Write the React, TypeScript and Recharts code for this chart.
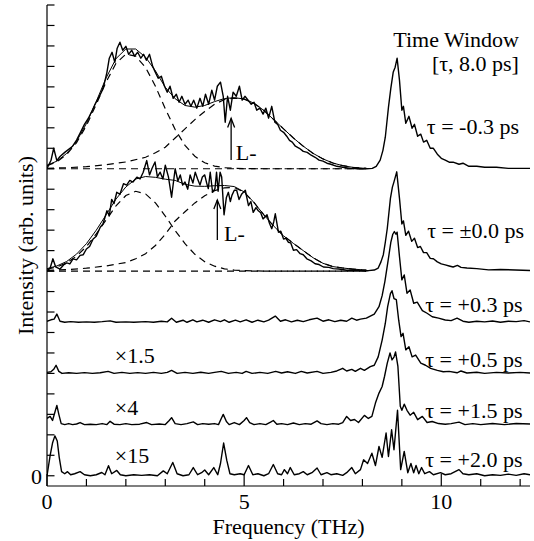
import React from 'react';
import { LineChart, Line, XAxis, YAxis, ReferenceDot } from 'recharts';

type Pt = [number, number];

// ---- axes ----
const FREQ_TICKS = [0, 1, 2, 3, 4, 5, 6, 7, 8, 9, 10, 11, 12];
const FREQ_LABELS = [0, 5, 10];
const INTENSITY_TICKS = [0, 1, 2, 3, 4, 5, 6, 7, 8, 9, 10, 11, 12, 13, 14, 15, 16, 17, 18, 19, 20, 21, 22, 23];
const INTENSITY_LABELS = [0];

// ---- vertical offsets of each trace (arb. units) ----
const OFFSET_M03 = 15;
const OFFSET_P00 = 10;
const OFFSET_P03 = 7.5;
const OFFSET_P05 = 5;
const OFFSET_P15 = 2.5;
const OFFSET_P20 = 0;

// ---- spectra [frequency THz, intensity] ----
const TAU_M03: Pt[] = [
  [0, 0.02], [0.1, 0.4], [0.17, 1.0], [0.25, 0.4], [0.33, 0.6], [0.45, 0.8], [0.55, 0.95], [0.65, 1.1], [0.75, 1.4],
  [0.85, 1.78], [0.95, 2.17], [1.05, 2.47], [1.15, 2.86], [1.22, 3.15], [1.3, 3.44], [1.38, 3.74], [1.45, 4.13],
  [1.52, 4.71], [1.58, 5.4], [1.65, 5.69], [1.72, 5.2], [1.78, 5.89], [1.85, 6.18], [1.92, 5.79], [2.0, 5.98],
  [2.07, 5.59], [2.15, 5.79], [2.22, 5.5], [2.3, 5.69], [2.38, 5.4], [2.45, 5.59], [2.52, 5.3], [2.6, 5.59],
  [2.68, 5.0], [2.75, 4.71], [2.82, 4.42], [2.9, 4.52], [2.98, 4.03], [3.05, 3.74], [3.12, 4.03], [3.2, 3.44],
  [3.28, 3.64], [3.35, 3.25], [3.42, 3.54], [3.5, 3.15], [3.58, 3.35], [3.65, 3.05], [3.72, 3.35], [3.8, 2.96],
  [3.88, 3.44], [3.95, 3.05], [4.02, 3.64], [4.1, 3.15], [4.18, 3.84], [4.25, 3.35], [4.32, 4.03], [4.4, 4.23],
  [4.47, 3.54], [4.52, 2.27], [4.58, 3.54], [4.65, 2.86], [4.72, 3.74], [4.8, 3.54], [4.88, 4.03], [4.95, 3.35],
  [5.02, 3.54], [5.1, 3.35], [5.18, 3.15], [5.25, 3.25], [5.32, 2.86], [5.4, 2.96], [5.48, 2.67], [5.55, 2.96],
  [5.62, 2.47], [5.7, 3.05], [5.78, 2.27], [5.85, 2.17], [5.92, 1.88], [6.0, 1.78], [6.08, 1.59], [6.15, 1.39],
  [6.22, 1.3], [6.3, 1.1], [6.4, 1.0], [6.5, 0.85], [6.6, 0.8], [6.7, 0.66], [6.8, 0.56], [6.9, 0.42], [7.0, 0.37],
  [7.1, 0.27], [7.2, 0.22], [7.35, 0.12], [7.5, 0.07], [7.7, 0.02], [7.9, 0], [8.1, 0], [8.25, 0.02], [8.35, 0.12],
  [8.45, 0.42], [8.52, 0.9], [8.58, 1.54], [8.66, 3.0], [8.72, 3.93], [8.78, 4.71], [8.83, 4.96], [8.88, 5.4],
  [8.94, 4.32], [9.0, 2.86], [9.04, 3.05], [9.1, 2.22], [9.18, 2.56], [9.26, 1.98], [9.32, 2.17], [9.4, 1.59],
  [9.48, 1.69], [9.55, 1.3], [9.63, 1.39], [9.72, 1.0], [9.8, 1.0], [9.9, 0.71], [10.0, 0.51], [10.1, 0.42],
  [10.2, 0.32], [10.3, 0.32], [10.45, 0.22], [10.55, 0.27], [10.7, 0.12], [10.9, 0.12], [11.1, 0.07], [11.4, 0.07],
  [11.7, 0.02], [12.25, 0.02],
];

const TAU_P00: Pt[] = [
  [0, 0.0], [0.08, 0.15], [0.15, 0.6], [0.22, 0.2], [0.33, 0.1], [0.42, 0.3], [0.5, 0.4], [0.58, 0.35], [0.66, 0.6],
  [0.75, 0.55], [0.84, 0.77], [0.92, 0.8], [1.0, 1.08], [1.08, 1.2], [1.17, 1.57], [1.25, 1.7], [1.35, 2.14],
  [1.42, 2.3], [1.52, 2.95], [1.58, 2.7], [1.64, 3.5], [1.7, 3.3], [1.77, 3.85], [1.85, 3.75], [1.94, 4.27],
  [2.02, 4.2], [2.1, 4.43], [2.18, 4.35], [2.28, 4.59], [2.36, 4.5], [2.44, 4.83], [2.53, 5.4], [2.6, 4.7],
  [2.66, 5.0], [2.74, 5.33], [2.8, 4.6], [2.87, 4.83], [2.94, 4.5], [3.0, 5.17], [3.08, 4.6], [3.16, 3.61],
  [3.25, 5.0], [3.32, 4.4], [3.38, 4.7], [3.44, 4.2], [3.5, 4.35], [3.57, 4.0], [3.63, 4.7], [3.7, 4.3],
  [3.76, 4.83], [3.82, 4.5], [3.88, 4.2], [3.94, 4.6], [4.0, 4.7], [4.05, 4.3], [4.09, 4.03], [4.14, 4.83],
  [4.2, 3.85], [4.26, 4.03], [4.3, 4.83], [4.34, 3.9], [4.39, 4.83], [4.43, 4.6], [4.49, 2.75], [4.55, 3.6],
  [4.6, 3.85], [4.65, 3.4], [4.69, 3.7], [4.75, 3.95], [4.81, 3.95], [4.87, 3.5], [4.94, 3.77], [5.03, 3.95],
  [5.11, 3.2], [5.17, 3.4], [5.23, 2.87], [5.3, 3.1], [5.36, 2.95], [5.42, 2.85], [5.48, 2.55], [5.58, 2.75],
  [5.64, 2.35], [5.7, 2.07], [5.75, 2.4], [5.79, 2.8], [5.87, 1.9], [5.93, 1.95], [6.0, 1.57], [6.06, 1.6],
  [6.12, 1.41], [6.18, 1.38], [6.25, 1.02], [6.33, 1.05], [6.42, 0.85], [6.5, 0.8], [6.59, 0.6], [6.7, 0.5],
  [6.8, 0.36], [6.9, 0.32], [7.01, 0.2], [7.15, 0.18], [7.26, 0.12], [7.4, 0.1], [7.6, 0.04], [7.8, 0.05],
  [8.0, 0.02], [8.15, 0.02], [8.3, 0.05], [8.4, 0.15], [8.47, 0.45], [8.53, 0.8], [8.58, 1.4], [8.63, 2.08],
  [8.71, 3.55], [8.76, 4.1], [8.8, 4.36], [8.87, 4.85], [8.94, 3.55], [9.0, 2.3], [9.04, 2.45], [9.1, 1.75],
  [9.17, 1.95], [9.25, 1.45], [9.32, 1.6], [9.4, 1.15], [9.47, 1.2], [9.55, 0.9], [9.63, 0.9], [9.72, 0.62],
  [9.8, 0.6], [9.9, 0.45], [10.0, 0.35], [10.1, 0.3], [10.2, 0.25], [10.3, 0.2], [10.41, 0.28], [10.5, 0.18],
  [10.65, 0.15], [10.9, 0.12], [11.2, 0.06], [11.5, 0.08], [12.25, 0.03],
];

const TAU_P03: Pt[] = [
  [0, 0.05], [0.1, 0.12], [0.18, 0.15], [0.25, 0.4], [0.33, 0.05], [0.45, 0.0], [0.6, 0.03], [0.8, 0.0], [1.0, 0.02],
  [1.2, 0.0], [1.4, 0.03], [1.6, 0.07], [1.75, 0.0], [2.0, 0.02], [2.2, 0.0], [2.5, 0.03], [2.7, 0.0], [2.9, 0.05],
  [3.05, 0.02], [3.16, 0.2], [3.28, 0.0], [3.45, 0.1], [3.55, 0.0], [3.7, 0.12], [3.8, 0.02], [3.95, 0.1],
  [4.1, 0.0], [4.25, 0.12], [4.4, 0.03], [4.5, 0.12], [4.62, 0.0], [4.78, 0.1], [4.9, 0.02], [5.05, 0.12],
  [5.2, 0.0], [5.35, 0.1], [5.5, 0.02], [5.62, 0.1], [5.79, 0.3], [5.92, 0.05], [6.05, 0.12], [6.2, 0.02],
  [6.35, 0.1], [6.5, 0.03], [6.65, 0.12], [6.85, 0.2], [7.0, 0.05], [7.15, 0.12], [7.3, 0.03], [7.45, 0.1],
  [7.6, 0.05], [7.73, 0.2], [7.85, 0.1], [7.95, 0.15], [8.1, 0.2], [8.2, 0.3], [8.3, 0.4], [8.42, 0.76],
  [8.5, 1.3], [8.57, 2.0], [8.65, 3.0], [8.72, 3.9], [8.77, 4.3], [8.81, 4.43], [8.85, 4.3], [8.88, 4.4],
  [8.94, 3.2], [9.0, 2.07], [9.06, 2.31], [9.13, 1.42], [9.21, 1.58], [9.3, 0.93], [9.39, 0.98], [9.52, 0.57],
  [9.64, 0.44], [9.77, 0.27], [9.93, 0.2], [10.1, 0.11], [10.25, 0.08], [10.4, 0.2], [10.55, 0.05], [10.7, 0.0],
  [10.9, 0.05], [11.1, 0.02], [11.3, 0.06], [11.5, 0.0], [11.7, 0.05], [11.9, 0.03], [12.1, 0.08], [12.25, 0.02],
];

const TAU_P05: Pt[] = [
  [0, 0.05], [0.1, 0.08], [0.17, 0.2], [0.23, 0.4], [0.3, 0.1], [0.38, 0.0], [0.55, 0.03], [0.75, 0.0], [0.95, 0.04],
  [1.15, 0.0], [1.35, 0.03], [1.55, 0.1], [1.7, 0.0], [1.9, 0.05], [2.1, 0.0], [2.3, 0.04], [2.5, 0.0], [2.7, 0.05],
  [2.9, 0.0], [3.05, 0.05], [3.16, 0.15], [3.3, 0.0], [3.5, 0.05], [3.7, 0.0], [3.9, 0.06], [4.1, 0.0], [4.25, 0.05],
  [4.42, 0.1], [4.6, 0.0], [4.8, 0.05], [4.95, 0.0], [5.05, 0.1], [5.2, 0.0], [5.4, 0.05], [5.6, 0.0], [5.8, 0.1],
  [5.95, 0.02], [6.1, 0.08], [6.3, 0.0], [6.45, 0.1], [6.6, 0.02], [6.85, 0.1], [7.0, 0.0], [7.2, 0.05],
  [7.35, 0.12], [7.5, 0.25], [7.6, 0.12], [7.73, 0.2], [7.82, 0.1], [7.95, 0.25], [8.05, 0.15], [8.2, 0.33],
  [8.3, 0.4], [8.4, 0.81], [8.5, 1.63], [8.58, 2.44], [8.64, 3.26], [8.71, 3.9], [8.75, 4.04], [8.8, 3.66],
  [8.86, 3.6], [8.92, 2.6], [8.98, 1.8], [9.03, 1.96], [9.1, 1.15], [9.18, 1.3], [9.26, 0.81], [9.35, 0.9],
  [9.48, 0.5], [9.6, 0.4], [9.73, 0.25], [9.9, 0.15], [10.05, 0.08], [10.2, 0.1], [10.4, 0.03], [10.5, 0.12],
  [10.65, 0.02], [10.9, 0.06], [11.1, 0.0], [11.4, 0.05], [11.7, 0.02], [12.0, 0.05], [12.25, 0.02],
];

const TAU_P15: Pt[] = [
  [0, 0.3], [0.08, 0.4], [0.14, 0.2], [0.2, 0.6], [0.25, 0.94], [0.3, 0.5], [0.36, 0.05], [0.45, 0.0], [0.55, 0.05],
  [0.65, 0.0], [0.75, 0.03], [0.84, 0.1], [0.95, 0.0], [1.1, 0.02], [1.25, 0.0], [1.4, 0.05], [1.52, 0.0], [1.6, 0.16],
  [1.7, 0.02], [1.85, 0.0], [2.0, 0.05], [2.15, 0.0], [2.35, 0.02], [2.53, 0.1], [2.65, 0.0], [2.85, 0.03], [3.0, 0.0],
  [3.1, 0.2], [3.16, 0.34], [3.25, 0.05], [3.4, 0.0], [3.55, 0.05], [3.71, 0.13], [3.82, 0.0], [3.95, 0.05],
  [4.1, 0.02], [4.25, 0.05], [4.35, 0.0], [4.42, 0.3], [4.47, 0.5], [4.55, 0.15], [4.62, 0.0], [4.75, 0.1],
  [4.88, 0.0], [5.0, 0.2], [5.06, 0.34], [5.14, 0.1], [5.25, 0.0], [5.4, 0.05], [5.55, 0.0], [5.67, 0.12],
  [5.74, 0.2], [5.83, 0.02], [5.95, 0.05], [6.1, 0.0], [6.25, 0.08], [6.4, 0.0], [6.55, 0.05], [6.7, 0.02],
  [6.85, 0.18], [6.95, 0.05], [7.1, 0.0], [7.25, 0.05], [7.4, 0.02], [7.5, 0.1], [7.6, 0.4], [7.7, 0.2], [7.8, 0.25],
  [7.9, 0.1], [8.05, 0.45], [8.15, 0.3], [8.24, 0.4], [8.33, 1.05], [8.42, 1.54], [8.5, 1.86], [8.56, 2.35],
  [8.63, 3.0], [8.7, 3.5], [8.75, 3.16], [8.8, 3.3], [8.84, 3.55], [8.9, 2.84], [8.96, 0.9], [9.0, 0.7], [9.06, 1.0],
  [9.13, 0.7], [9.21, 0.46], [9.3, 0.6], [9.4, 0.24], [9.52, 0.4], [9.64, 0.1], [9.77, 0.15], [9.93, 0.05],
  [10.1, 0.02], [10.25, 0.05], [10.45, 0.12], [10.6, 0.0], [10.8, 0.05], [11.0, 0.0], [11.3, 0.05], [11.6, 0.0],
  [11.9, 0.05], [12.25, 0.03],
];

const TAU_P20: Pt[] = [
  [0, 0], [0.08, 1.0], [0.14, 1.6], [0.2, 1.95], [0.26, 1.7], [0.31, 0.9], [0.37, 0.2], [0.45, 0.1], [0.52, 0.2],
  [0.6, 0.05], [0.7, 0.1], [0.84, 0.2], [0.95, 0.05], [1.1, 0.0], [1.25, 0.05], [1.39, 0.16], [1.47, 0.05],
  [1.56, 0.49], [1.64, 0.1], [1.77, 0.26], [1.86, 0.05], [2.0, 0.0], [2.2, 0.05], [2.4, 0.02], [2.6, 0.05],
  [2.8, 0.0], [2.95, 0.24], [3.05, 0.1], [3.19, 0.65], [3.3, 0.1], [3.45, 0.0], [3.6, 0.05], [3.71, 0.4],
  [3.82, 0.05], [3.92, 0.15], [4.0, 0.28], [4.1, 0.05], [4.23, 0.4], [4.33, 0.05], [4.4, 0.6], [4.48, 1.6],
  [4.56, 0.75], [4.64, 0.1], [4.75, 0.05], [4.9, 0.1], [5.0, 0.05], [5.11, 0.5], [5.22, 0.05], [5.35, 0.1],
  [5.5, 0.0], [5.62, 0.1], [5.74, 0.55], [5.85, 0.1], [5.95, 0.05], [6.02, 0.3], [6.1, 0.1], [6.17, 0.4],
  [6.27, 0.05], [6.4, 0.1], [6.5, 0.2], [6.6, 0.05], [6.72, 0.15], [6.85, 0.38], [6.95, 0.05], [7.1, 0.15],
  [7.2, 0.05], [7.35, 0.1], [7.5, 0.02], [7.6, 0.15], [7.73, 0.4], [7.82, 0.1], [7.95, 0.3], [8.03, 0.78],
  [8.13, 0.6], [8.24, 1.1], [8.33, 0.5], [8.42, 1.43], [8.5, 0.9], [8.6, 2.09], [8.66, 0.94], [8.74, 2.25],
  [8.8, 1.27], [8.89, 3.2], [8.97, 0.3], [9.06, 1.19], [9.15, 0.15], [9.23, 0.6], [9.3, 0.15], [9.36, 0.5],
  [9.43, 0.1], [9.5, 0.4], [9.58, 0.1], [9.7, 0.2], [9.8, 0.05], [9.98, 0.15], [10.1, 0.05], [10.25, 0.1],
  [10.45, 0.3], [10.55, 0.1], [10.7, 0.05], [10.9, 0.1], [11.1, 0.0], [11.3, 0.05], [11.5, 0.02], [11.7, 0.08],
  [11.9, 0.02], [12.1, 0.1], [12.25, 0.05],
];

// ---- fit components (dashed) and fit sums (solid) ----
const FIT_G1_M03: Pt[] = [
  [0, 0.15], [0.25, 0.34], [0.5, 0.7], [0.75, 1.27], [1, 2.11], [1.25, 3.15], [1.5, 4.24], [1.75, 5.15], [2, 5.6],
  [2.25, 5.5], [2.5, 4.95], [2.75, 4.03], [3, 2.93], [3.25, 1.92], [3.5, 1.14], [3.75, 0.61], [4, 0.29], [4.25, 0.13],
  [4.5, 0.05], [4.75, 0.02], [5, 0.01], [5.5, 0], [6, 0], [7, 0], [8.1, 0],
];
const FIT_G2_M03: Pt[] = [
  [0, 0.02], [0.5, 0.05], [1, 0.1], [1.5, 0.2], [2, 0.33], [2.5, 0.56], [2.75, 0.78], [3, 1.05], [3.25, 1.5],
  [3.5, 1.95], [3.75, 2.4], [4, 2.8], [4.25, 3.15], [4.5, 3.38], [4.75, 3.45], [5, 3.4], [5.25, 3.2], [5.5, 2.85],
  [5.75, 2.4], [6, 1.95], [6.25, 1.5], [6.5, 1.1], [6.75, 0.75], [7, 0.48], [7.25, 0.28], [7.5, 0.15], [7.75, 0.07],
  [8, 0.03], [8.1, 0.02],
];
const FIT_SUM_M03: Pt[] = [
  [0, 0.17], [0.25, 0.37], [0.5, 0.75], [0.75, 1.34], [1, 2.21], [1.25, 3.29], [1.5, 4.44], [1.75, 5.38], [2, 5.85],
  [2.25, 5.85], [2.5, 5.45], [2.75, 4.78], [3, 3.98], [3.25, 3.42], [3.5, 3.09], [3.75, 3.01], [4, 3.09], [4.25, 3.28],
  [4.5, 3.43], [4.75, 3.47], [5, 3.41], [5.25, 3.2], [5.5, 2.85], [5.75, 2.4], [6, 1.95], [6.25, 1.5], [6.5, 1.1],
  [6.75, 0.75], [7, 0.48], [7.25, 0.28], [7.5, 0.15], [7.75, 0.07], [8, 0.03], [8.1, 0.02],
];
const FIT_G1_P00: Pt[] = [
  [0, 0.09], [0.25, 0.2], [0.5, 0.4], [0.75, 0.73], [1, 1.2], [1.25, 1.82], [1.5, 2.5], [1.75, 3.19], [2, 3.69],
  [2.25, 3.9], [2.5, 3.77], [2.75, 3.33], [3, 2.69], [3.25, 1.98], [3.5, 1.34], [3.75, 0.82], [4, 0.46], [4.25, 0.24],
  [4.5, 0.11], [4.75, 0.05], [5, 0.02], [5.5, 0], [6, 0], [7, 0], [8.1, 0],
];
const FIT_G2_P00: Pt[] = [
  [0, 0.03], [0.5, 0.07], [1, 0.14], [1.5, 0.25], [2, 0.42], [2.25, 0.6], [2.5, 0.85], [2.75, 1.25], [3, 1.8],
  [3.25, 2.45], [3.5, 2.9], [3.75, 3.33], [4, 3.68], [4.25, 3.93], [4.5, 4.07], [4.75, 4.08], [5, 3.85], [5.25, 3.35],
  [5.5, 2.75], [5.75, 2.2], [6, 1.72], [6.25, 1.35], [6.5, 1.0], [6.75, 0.65], [7, 0.38], [7.25, 0.22], [7.5, 0.15],
  [7.75, 0.1], [8, 0.06], [8.1, 0.05],
];
const FIT_SUM_P00: Pt[] = [
  [0, 0.12], [0.25, 0.25], [0.5, 0.47], [0.75, 0.83], [1, 1.34], [1.25, 2.0], [1.5, 2.75], [1.75, 3.52], [2, 4.11],
  [2.25, 4.5], [2.5, 4.62], [2.75, 4.58], [3, 4.49], [3.25, 4.43], [3.5, 4.24], [3.75, 4.15], [4, 4.14], [4.25, 4.17],
  [4.5, 4.18], [4.75, 4.13], [5, 3.87], [5.25, 3.35], [5.5, 2.75], [5.75, 2.2], [6, 1.72], [6.25, 1.35], [6.5, 1.0],
  [6.75, 0.65], [7, 0.38], [7.25, 0.22], [7.5, 0.15], [7.75, 0.1], [8, 0.06], [8.1, 0.05],
];
const FIT_BASE: Pt[] = [[0, 0], [8.1, 0]];

// ---- annotations ----
const ARROWS = [
  { f: 4.67, from: 15.43, to: 17.46 },
  { f: 4.32, from: 11.52, to: 13.47 },
];
const NOTES: { text: string; f: number; v: number; anchor: 'start' | 'end' }[] = [
  { text: 'Time Window', f: 11.97, v: 20.97, anchor: 'end' },
  { text: '[τ, 8.0 ps]', f: 11.97, v: 19.79, anchor: 'end' },
  { text: 'τ = -0.3 ps', f: 11.97, v: 16.72, anchor: 'end' },
  { text: 'τ = ±0.0 ps', f: 12.1, v: 11.64, anchor: 'end' },
  { text: 'τ = +0.3 ps', f: 12.06, v: 8.02, anchor: 'end' },
  { text: 'τ = +0.5 ps', f: 12.06, v: 5.33, anchor: 'end' },
  { text: 'τ = +1.5 ps', f: 12.06, v: 2.81, anchor: 'end' },
  { text: 'τ = +2.0 ps', f: 12.06, v: 0.41, anchor: 'end' },
  { text: '×1.5', f: 1.72, v: 5.5, anchor: 'start' },
  { text: '×4', f: 1.72, v: 2.97, anchor: 'start' },
  { text: '×15', f: 1.72, v: 0.61, anchor: 'start' },
  { text: 'L-', f: 4.79, v: 15.45, anchor: 'start' },
  { text: 'L-', f: 4.49, v: 11.45, anchor: 'start' },
];

const FONT = "'Liberation Serif', 'Times New Roman', Times, 'DejaVu Serif', serif";
const INK = '#000';
const TXT: React.CSSProperties = { fontFamily: FONT, fontSize: 22, fill: INK };

const rows = (pts: Pt[], off: number) => pts.map(([f, h]) => ({ f, v: h + off }));

const DATA_SERIES = [
  { id: 'm03', pts: TAU_M03, off: OFFSET_M03 },
  { id: 'p00', pts: TAU_P00, off: OFFSET_P00 },
  { id: 'p03', pts: TAU_P03, off: OFFSET_P03 },
  { id: 'p05', pts: TAU_P05, off: OFFSET_P05 },
  { id: 'p15', pts: TAU_P15, off: OFFSET_P15 },
  { id: 'p20', pts: TAU_P20, off: OFFSET_P20 },
];
const DASHED_SERIES = [
  { id: 'g1m03', pts: FIT_G1_M03, off: OFFSET_M03 },
  { id: 'g2m03', pts: FIT_G2_M03, off: OFFSET_M03 },
  { id: 'bm03', pts: FIT_BASE, off: OFFSET_M03 },
  { id: 'g1p00', pts: FIT_G1_P00, off: OFFSET_P00 },
  { id: 'g2p00', pts: FIT_G2_P00, off: OFFSET_P00 },
  { id: 'bp00', pts: FIT_BASE, off: OFFSET_P00 },
];
const FIT_SERIES = [
  { id: 'sm03', pts: FIT_SUM_M03, off: OFFSET_M03 },
  { id: 'sp00', pts: FIT_SUM_P00, off: OFFSET_P00 },
];

function BottomTick(props: any) {
  const { x, y, payload } = props;
  const major = FREQ_LABELS.includes(payload.value);
  return (
    <g>
      <line x1={x} x2={x} y1={y} y2={y - (major ? 12 : 7)} stroke={INK} strokeWidth={1.2} />
      {major && (
        <text x={x} y={y + 23} textAnchor="middle" style={TXT}>
          {payload.value}
        </text>
      )}
    </g>
  );
}
function TopTick(props: any) {
  const { x, y, payload } = props;
  const major = FREQ_LABELS.includes(payload.value);
  return <line x1={x} x2={x} y1={y} y2={y + (major ? 12 : 7)} stroke={INK} strokeWidth={1.2} />;
}
function LeftTick(props: any) {
  const { x, y, payload } = props;
  const lab = INTENSITY_LABELS.includes(payload.value);
  return (
    <g>
      <line x1={x} x2={x + 7.5} y1={y} y2={y} stroke={INK} strokeWidth={1.2} />
      {lab && (
        <text x={x - 5} y={y + 8} textAnchor="end" style={TXT}>
          {payload.value}
        </text>
      )}
    </g>
  );
}
function RightTick(props: any) {
  const { x, y } = props;
  return <line x1={x} x2={x - 7.5} y1={y} y2={y} stroke={INK} strokeWidth={1.2} />;
}

export default function App() {
  return (
    <div
      style={{ position: 'absolute', left: 0, top: 0, width: 534, height: 541, background: '#fff', fontFamily: FONT }}
    >
      <LineChart width={534} height={541} margin={{ top: 5, right: 4, bottom: 0, left: 0 }}>
        <XAxis
          dataKey="f"
          type="number"
          domain={[0, 12.25]}
          allowDataOverflow
          ticks={FREQ_TICKS}
          interval={0}
          height={55}
          tickSize={0}
          tickMargin={0}
          tickLine={false}
          axisLine={{ stroke: INK, strokeWidth: 1.2 }}
          tick={<BottomTick />}
          label={{
            content: (p: any) => (
              <text x={p.viewBox.x + p.viewBox.width / 2} y={p.viewBox.y + 48} textAnchor="middle" style={TXT}>
                Frequency (THz)
              </text>
            ),
          }}
        />
        <XAxis
          xAxisId="top"
          orientation="top"
          dataKey="f"
          type="number"
          domain={[0, 12.25]}
          allowDataOverflow
          ticks={FREQ_TICKS}
          interval={0}
          height={0}
          tickSize={0}
          tickMargin={0}
          tickLine={false}
          axisLine={{ stroke: INK, strokeWidth: 1.2 }}
          tick={<TopTick />}
        />
        <YAxis
          type="number"
          domain={[-0.5, 23]}
          allowDataOverflow
          ticks={INTENSITY_TICKS}
          interval={0}
          width={47}
          tickSize={0}
          tickMargin={0}
          tickLine={false}
          axisLine={{ stroke: INK, strokeWidth: 1.2 }}
          tick={<LeftTick />}
          label={{
            content: (p: any) => {
              const cx = 33;
              const cy = p.viewBox.y + p.viewBox.height / 2;
              return (
                <text x={cx} y={cy} transform={`rotate(-90 ${cx} ${cy})`} textAnchor="middle" style={TXT}>
                  Intensity (arb. units)
                </text>
              );
            },
          }}
        />
        <YAxis
          yAxisId="right"
          orientation="right"
          type="number"
          domain={[-0.5, 23]}
          allowDataOverflow
          ticks={INTENSITY_TICKS}
          interval={0}
          width={0}
          tickSize={0}
          tickMargin={0}
          tickLine={false}
          axisLine={{ stroke: INK, strokeWidth: 1.2 }}
          tick={<RightTick />}
        />

        {DASHED_SERIES.map((s) => (
          <Line
            key={s.id}
            data={rows(s.pts, s.off)}
            dataKey="v"
            type="linear"
            stroke={INK}
            strokeWidth={1.2}
            strokeDasharray="7 5"
            dot={false}
            activeDot={false}
            isAnimationActive={false}
          />
        ))}
        {FIT_SERIES.map((s) => (
          <Line
            key={s.id}
            data={rows(s.pts, s.off)}
            dataKey="v"
            type="linear"
            stroke={INK}
            strokeWidth={1}
            dot={false}
            activeDot={false}
            isAnimationActive={false}
          />
        ))}
        {DATA_SERIES.map((s) => (
          <Line
            key={s.id}
            data={rows(s.pts, s.off)}
            dataKey="v"
            type="linear"
            stroke={INK}
            strokeWidth={1.4}
            strokeLinejoin="round"
            dot={false}
            activeDot={false}
            isAnimationActive={false}
          />
        ))}
        {ARROWS.map((a, i) => (
          <Line
            key={`arrow${i}`}
            data={[{ f: a.f, v: a.from }, { f: a.f, v: a.to }]}
            dataKey="v"
            type="linear"
            stroke={INK}
            strokeWidth={1.3}
            activeDot={false}
            isAnimationActive={false}
            dot={(p: any) =>
              p.index === 1 ? (
                <path
                  key={`ah${i}-${p.index}`}
                  d={`M${p.cx - 3.5},${p.cy + 9} L${p.cx},${p.cy} L${p.cx + 3.5},${p.cy + 9}`}
                  fill="none"
                  stroke={INK}
                  strokeWidth={1.3}
                />
              ) : (
                <g key={`ah${i}-${p.index}`} />
              )
            }
          />
        ))}
        {NOTES.map((n, i) => (
          <ReferenceDot
            key={`note${i}`}
            x={n.f}
            y={n.v}
            r={0}
            ifOverflow="visible"
            shape={(p: any) => (
              <text x={p.cx} y={p.cy} textAnchor={n.anchor} style={TXT}>
                {n.text}
              </text>
            )}
          />
        ))}
      </LineChart>
    </div>
  );
}
